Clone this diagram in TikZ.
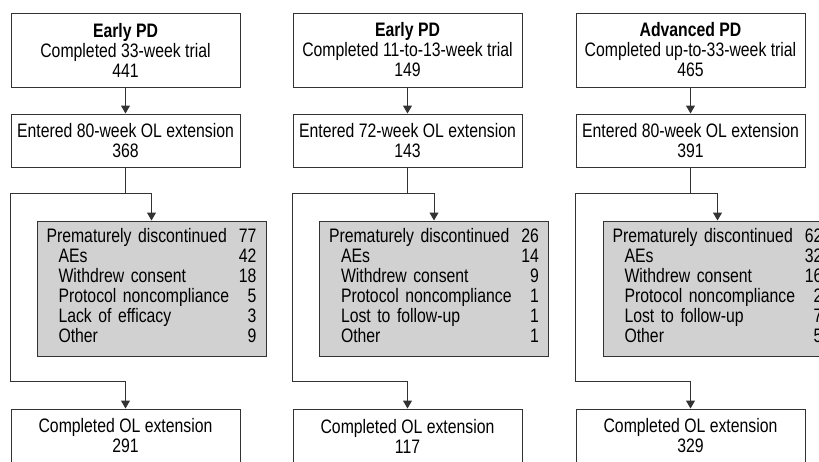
\documentclass[tikz,border=0pt]{standalone}
\usepackage{fontspec}
\setmainfont[FakeStretch=0.81]{Liberation Sans}
\usetikzlibrary{arrows.meta,calc,positioning}
\newcommand{\reasons}[1]{\begin{tabular*}{210pt}{@{}l@{\extracolsep{\fill}}r@{}}#1\end{tabular*}}
\def\sub{\hspace*{12pt}}

\begin{document}
\begin{tikzpicture}[x=1pt,y=-1pt]
    \tikzset{
        plain box/.style={
            draw=black!80,
            line width=1pt,
            fill=white,
            minimum width=229pt,
            align=center,
            inner sep=0pt,
            font=\fontsize{19.5}{20}\selectfont
        },
        disc box/.style={
            plain box,
            fill=black!18,
            minimum height=135pt,
            text width=210pt,
            align=left
        },
        flow arrow/.style={-{Triangle[length=8pt,width=9pt]}, draw=black!80, line width=1pt},
    }
    \useasboundingbox (0,0) rectangle (819,461);
    \clip (0,0) rectangle (819,461);

    % early PD, 33 weeks
    \node[plain box, minimum height=74pt] (trial-1) at (125.5,50) {\textbf{Early PD}\\Completed 33-week trial\\441};
    \node[plain box, minimum height=53pt] (ext-1) at (125.5,140.5) {Entered 80-week OL extension\\368};
    \node[disc box] (disc-1) at (151.5,288.5) {\reasons{Prematurely discontinued & 77\\ \sub AEs & 42\\ \sub Withdrew consent & 18\\ \sub Protocol noncompliance & 5\\ \sub Lack of efficacy & 3\\ \sub Other & 9}};
    \node[plain box, minimum height=54pt] (done-1) at (125.5,436) {Completed OL extension\\291};

    % early PD, 11 to 13 weeks
    \node[plain box, minimum height=74pt] (trial-2) at (407.5,50) {\textbf{Early PD}\\Completed 11-to-13-week trial\\149};
    \node[plain box, minimum height=53pt] (ext-2) at (407.5,140.5) {Entered 72-week OL extension\\143};
    \node[disc box] (disc-2) at (434,288.5) {\reasons{Prematurely discontinued & 26\\ \sub AEs & 14\\ \sub Withdrew consent & 9\\ \sub Protocol noncompliance & 1\\ \sub Lost to follow-up & 1\\ \sub Other & 1}};
    \node[plain box, minimum height=54pt] (done-2) at (407.5,436) {Completed OL extension\\117};

    % advanced PD
    \node[plain box, minimum height=74pt] (trial-3) at (690.5,50) {\textbf{Advanced PD}\\Completed up-to-33-week trial\\465};
    \node[plain box, minimum height=53pt] (ext-3) at (690.5,140.5) {Entered 80-week OL extension\\391};
    \node[disc box] (disc-3) at (717.5,288.5) {\reasons{Prematurely discontinued & 62\\ \sub AEs & 32\\ \sub Withdrew consent & 16\\ \sub Protocol noncompliance & 2\\ \sub Lost to follow-up & 7\\ \sub Other & 5}};
    \node[plain box, minimum height=54pt] (done-3) at (690.5,436) {Completed OL extension\\329};

    \foreach \i in {1,2,3} {
        \draw[flow arrow] (trial-\i) -- (ext-\i);
        \draw[flow arrow] (ext-\i.south) -- ++(0,26) -| (disc-\i.north);
        \draw[flow arrow] ($(ext-\i.south)+(0,26)$) -| ($(done-\i.north west)+(0,-27)$) -| (done-\i.north);
    }
\end{tikzpicture}
\end{document}
